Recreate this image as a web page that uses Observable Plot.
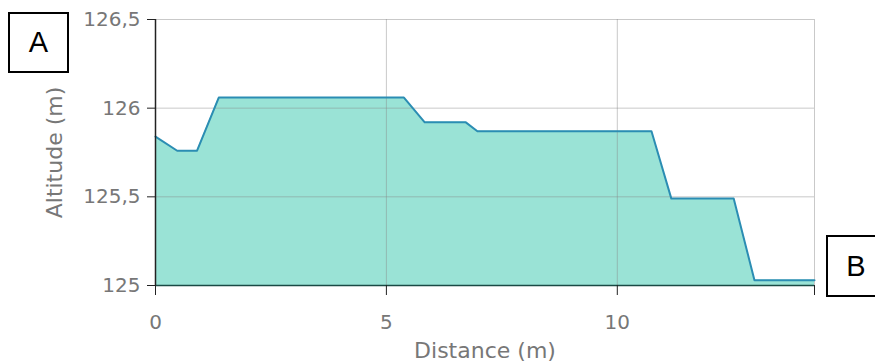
<!DOCTYPE html>
<html><head><meta charset="utf-8">
<script src="https://cdn.jsdelivr.net/npm/d3@7"></script>
<script src="https://cdn.jsdelivr.net/npm/@observablehq/plot@0.6"></script>
<style>
body{margin:0;background:#fff;}
#wrap{position:relative;width:875px;height:363px;font-family:"DejaVu Sans",sans-serif;}
.box{position:absolute;border:2px solid #000;background:#fff;font-family:"Liberation Sans",Arial,sans-serif;font-size:29px;color:#000;display:flex;align-items:center;justify-content:center;box-sizing:border-box;}
</style>
</head><body>
<div id="wrap"></div>
<script>
const distance = [0, 0.47, 0.90, 1.37, 5.38, 5.83, 6.72, 6.97, 10.74, 11.17, 12.52, 12.97, 14.27];
const altitude = [125.84, 125.76, 125.76, 126.06, 126.06, 125.92, 125.92, 125.87, 125.87, 125.49, 125.49, 125.03, 125.03];
const xTicks = [0, 5, 10, 14.27];
const yTicks = [125, 125.5, 126, 126.5];
const cornerLabels = ["A", "B"];

const data = distance.map((d, i) => ({d, a: altitude[i]}));
const fmtY = v => String(v).replace(".", ",");
const fmtX = v => Number.isInteger(v) ? String(v) : "";

const chart = Plot.plot({
  width: 875, height: 363,
  marginLeft: 155, marginRight: 61, marginTop: 19, marginBottom: 78,
  style: {fontFamily: "DejaVu Sans, sans-serif", background: "#fff"},
  x: {domain: [0, 14.27]},
  y: {domain: [125, 126.5]},
  marks: [
    Plot.areaY(data, {x: "d", y1: 125, y2: "a", fill: "#9ae3d6"}),
    Plot.gridY(yTicks.filter(v => v > 125), {stroke: "#888", strokeOpacity: 0.45}),
    Plot.gridX(xTicks.filter(v => v > 0), {stroke: "#888", strokeOpacity: 0.45}),
    Plot.lineY(data, {x: "d", y: "a", stroke: "#2b8db3", strokeWidth: 2}),
    Plot.ruleY([125], {stroke: "#1a4a44", strokeWidth: 1.5}),
    Plot.ruleX([0], {stroke: "#222", strokeWidth: 1.5}),
    Plot.axisY(yTicks, {tickFormat: fmtY, tickSize: 8, tickPadding: 7, stroke: "#222", fill: "#777",
      fontSize: 20, label: null}),
    Plot.axisY({label: "Altitude (m)", labelAnchor: "center", labelArrow: "none", labelOffset: 109,
      ticks: [], fontSize: 22, fill: "#777"}),
    Plot.axisX(xTicks, {tickFormat: fmtX, tickSize: 10, tickPadding: 19, stroke: "#222", fill: "#777",
      fontSize: 20, label: null}),
    Plot.axisX({label: "Distance (m)", labelAnchor: "center", labelArrow: "none", labelOffset: 72,
      ticks: [], fontSize: 22, fill: "#777"})
  ]
});
const wrap = document.getElementById("wrap");
wrap.appendChild(chart);
const boxes = [
  {t: cornerLabels[0], left: 8, top: 12, w: 61, h: 61},
  {t: cornerLabels[1], left: 826, top: 235, w: 60, h: 62}
];
for (const b of boxes) {
  const el = document.createElement("div");
  el.className = "box";
  el.textContent = b.t;
  Object.assign(el.style, {left: b.left + "px", top: b.top + "px", width: b.w + "px", height: b.h + "px"});
  wrap.appendChild(el);
}
</script>
</body></html>
